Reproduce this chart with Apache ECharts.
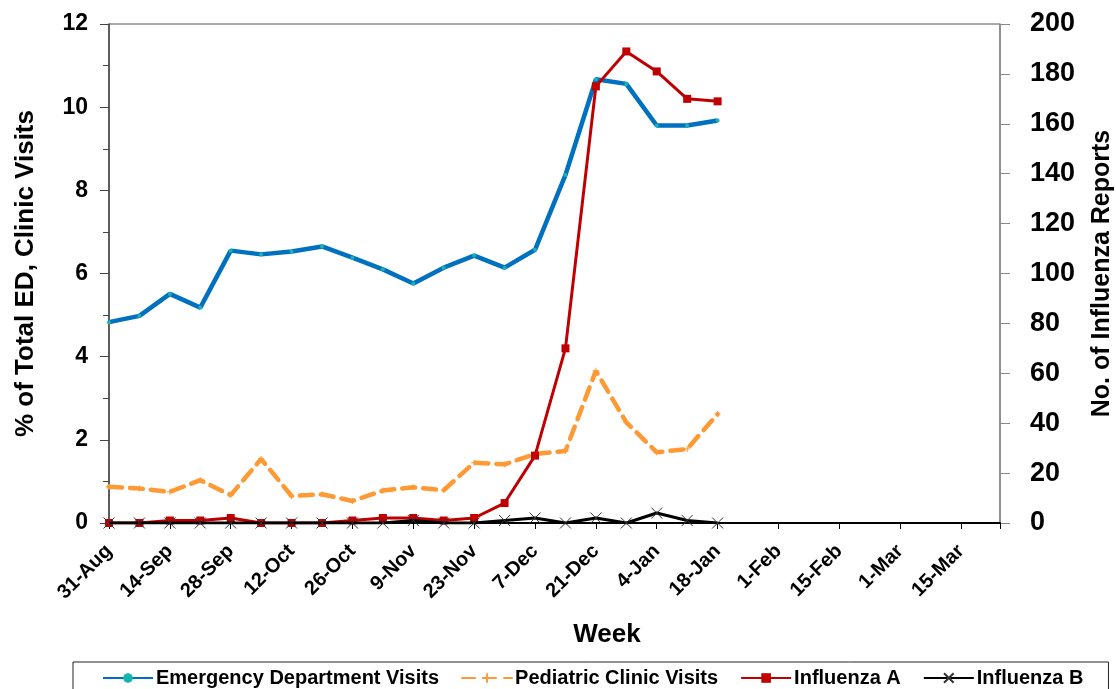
<!DOCTYPE html>
<html>
<head>
<meta charset="utf-8">
<script src="https://cdn.jsdelivr.net/npm/echarts@6/dist/echarts.min.js"></script>
<style>
  html, body { margin: 0; padding: 0; background: #fff; }
  #chart { width: 1116px; height: 689px; }
</style>
</head>
<body>
<div id="chart"></div>
<script>
// week labels (Sundays), one per week from 31-Aug to 22-Mar
var weeks = ['31-Aug', '7-Sep', '14-Sep', '21-Sep', '28-Sep', '5-Oct', '12-Oct', '19-Oct',
  '26-Oct', '2-Nov', '9-Nov', '16-Nov', '23-Nov', '30-Nov', '7-Dec', '14-Dec', '21-Dec',
  '28-Dec', '4-Jan', '11-Jan', '18-Jan', '25-Jan', '1-Feb', '8-Feb', '15-Feb', '22-Feb',
  '1-Mar', '8-Mar', '15-Mar', '22-Mar'];

// % of total visits (left axis)
var edVisits = [4.83, 4.98, 5.51, 5.18, 6.55, 6.46, 6.53, 6.65, 6.38, 6.10, 5.76,
  6.14, 6.43, 6.14, 6.57, 8.37, 10.67, 10.56, 9.56, 9.56, 9.68];
var pedVisits = [0.87, 0.83, 0.75, 1.03, 0.67, 1.54, 0.65, 0.69, 0.53, 0.78, 0.86,
  0.79, 1.45, 1.41, 1.66, 1.73, 3.66, 2.42, 1.70, 1.78, 2.62];

// number of reports (right axis)
var fluA = [0, 0, 1, 1, 2, 0, 0, 0, 1, 2, 2, 1, 2, 8, 27, 70, 175, 189, 181, 170, 169];
var fluB = [0, 0, 0, 0, 0, 0, 0, 0, 0, 0, 1, 0, 0, 1, 2, 0, 2, 0, 4, 1, 0];

var leftTicks = [0, 12, 2];
var rightTicks = [0, 200, 20];

function pairs(arr) {
  return arr.map(function (v, i) { return [i, v]; });
}

var chart = echarts.init(document.getElementById('chart'));

var font = 'Liberation Sans, Arial, sans-serif';
var crossPath = 'path://M0,0L10,10M0,10L10,0';
var plusPath = 'path://M5,0L5,10M0,5L10,5';

var option = {
  animation: false,
  backgroundColor: '#fff',
  textStyle: { fontFamily: font },
  grid: {
    left: 109, right: 116, top: 24, bottom: 166,
    containLabel: false, outerBoundsMode: 'none',
    show: true, borderColor: '#555', borderWidth: 1
  },
  title: {
    text: 'Week',
    left: 602, top: 617,
    textAlign: 'center',
    textStyle: { fontFamily: font, fontSize: 26, fontWeight: 'bold', color: '#000' }
  },
  legend: {
    left: 73, top: 662, width: 983,
    padding: [6, 25, 20, 29],
    borderColor: '#222', borderWidth: 1,
    itemWidth: 50, itemHeight: 12, itemGap: 22,
    textStyle: { fontFamily: font, fontSize: 20, fontWeight: 'bold', color: '#000', padding: [0, 0, 0, -2] },
    data: ['Emergency Department Visits', 'Pediatric Clinic Visits', 'Influenza A', 'Influenza B']
  },
  xAxis: {
    type: 'value',
    min: 0, max: 29.28, interval: 2,
    splitLine: { show: false },
    axisLine: { onZero: false, lineStyle: { color: '#000', width: 2 } },
    axisTick: { show: true, length: 6, lineStyle: { color: '#000', width: 1 } },
    axisLabel: {
      rotate: 45, margin: 25,
      fontFamily: font, fontSize: 20, fontWeight: 'bold', color: '#000',
      formatter: function (v) {
        return (Math.abs(v - Math.round(v)) < 1e-6 && weeks[v]) ? weeks[v] : '';
      }
    }
  },
  yAxis: [
    {
      type: 'value',
      min: leftTicks[0], max: leftTicks[1], interval: leftTicks[2],
      name: '% of Total ED, Clinic Visits',
      nameLocation: 'middle', nameRotate: 90, nameGap: 70,
      nameTextStyle: { fontFamily: font, fontSize: 26, fontWeight: 'bold', color: '#000' },
      splitLine: { show: false },
      axisLine: { show: true, lineStyle: { color: '#444', width: 1.5 } },
      axisTick: { show: true, length: 9, lineStyle: { color: '#444' } },
      minorTick: { show: true, splitNumber: 2, length: 6, lineStyle: { color: '#444' } },
      axisLabel: { margin: 21, fontFamily: font, fontSize: 23, fontWeight: 'bold', color: '#000' }
    },
    {
      type: 'value',
      position: 'right',
      min: rightTicks[0], max: rightTicks[1], interval: rightTicks[2],
      name: 'No. of Influenza Reports',
      nameLocation: 'middle', nameRotate: 90, nameGap: 90,
      nameTextStyle: { fontFamily: font, fontSize: 25, fontWeight: 'bold', color: '#000' },
      splitLine: { show: false },
      axisLine: { show: true, lineStyle: { color: '#888', width: 1.5 } },
      axisTick: { show: true, length: 10, lineStyle: { color: '#888' } },
      axisLabel: { margin: 30, fontFamily: font, fontSize: 27, fontWeight: 'bold', color: '#000' }
    }
  ],
  series: [
    {
      name: 'Emergency Department Visits',
      type: 'line', yAxisIndex: 0,
      data: pairs(edVisits),
      symbol: 'circle', symbolSize: 4,
      lineStyle: { color: '#0070C0', width: 4.5 },
      itemStyle: { color: '#17b3b0' },
      z: 3
    },
    {
      name: 'Pediatric Clinic Visits',
      type: 'line', yAxisIndex: 0,
      data: pairs(pedVisits),
      symbol: plusPath, symbolSize: 6,
      lineStyle: { color: '#FF9933', width: 4.5, type: [13, 8], cap: 'round' },
      itemStyle: { color: '#FF9933', borderColor: '#FF9933', borderWidth: 1 },
      z: 2
    },
    {
      name: 'Influenza A',
      type: 'line', yAxisIndex: 1,
      data: pairs(fluA),
      symbol: 'rect', symbolSize: 8,
      lineStyle: { color: '#C00000', width: 3 },
      itemStyle: { color: '#C00000' },
      z: 4
    },
    {
      name: 'Influenza B',
      type: 'line', yAxisIndex: 1,
      data: pairs(fluB),
      symbol: crossPath, symbolSize: 11,
      lineStyle: { color: '#000', width: 3 },
      itemStyle: { color: '#000', borderColor: '#333', borderWidth: 1 },
      z: 5
    }
  ]
};

chart.setOption(option);
</script>
</body>
</html>
